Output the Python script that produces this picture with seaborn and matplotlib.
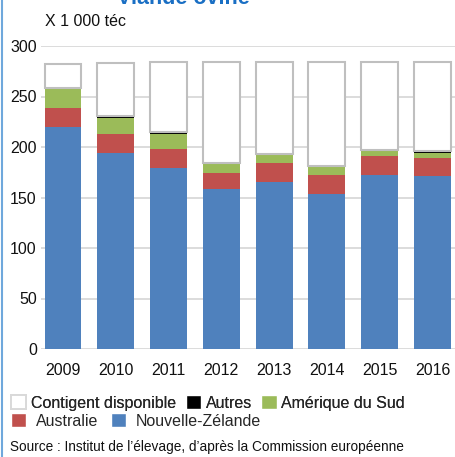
import matplotlib
matplotlib.use("Agg")
import matplotlib.pyplot as plt
import seaborn as sns
import pandas as pd
from matplotlib.patches import Patch
from matplotlib.lines import Line2D

# data (x 1 000 téc)
years = ['2009', '2010', '2011', '2012', '2013', '2014', '2015', '2016']
nz = [220, 194, 179, 158, 165, 153, 172, 171]
au = [19, 19, 19, 16, 19.5, 19, 19, 18]
sa = [18, 16, 15, 9, 8, 8, 5, 5.5]
autres = [1.5, 1.5, 1.5, 1, 1, 1.5, 1.5, 1.5]
contingent = [24, 52.5, 69.5, 100, 90.5, 103, 87, 88.5]

df = pd.DataFrame({'year': years, 'nz': nz, 'au': au, 'sa': sa,
                   'autres': autres, 'contingent': contingent})

sns.set_style("white")
plt.rcParams['font.family'] = ['Liberation Sans', 'DejaVu Sans']

fig = plt.figure(figsize=(4.56, 4.57), dpi=100)
ax = fig.add_axes([41 / 456, (457 - 349) / 457, 415 / 456, 303 / 457])

c_nz = '#4f81bd'
c_au = '#c0504d'
c_sa = '#9bbb59'
c_aut = '#000000'

# stacking
b1 = df['nz']
b2 = b1 + df['au']
b3 = b2 + df['sa']
b4 = b3 + df['autres']

w = 0.70
sns.barplot(data=df, x='year', y='nz', color=c_nz, width=w, saturation=1, ax=ax, linewidth=0)
sns.barplot(data=df, x='year', y='au', bottom=b1, color=c_au, width=w, saturation=1, ax=ax, linewidth=0)
sns.barplot(data=df, x='year', y='sa', bottom=b2, color=c_sa, width=w, saturation=1, ax=ax, linewidth=0)
sns.barplot(data=df, x='year', y='autres', bottom=b3, color=c_aut, width=w, saturation=1, ax=ax, linewidth=0)
sns.barplot(data=df, x='year', y='contingent', bottom=b4, color='white', width=w, saturation=1,
            ax=ax, edgecolor='#bfbfbf', linewidth=1.5)

ax.set_xlim(-0.417, 7.445)
ax.set_ylim(0, 300)
ax.set_yticks([0, 50, 100, 150, 200, 250, 300])
ax.yaxis.grid(True, color='#d9d9d9', linewidth=1.3)
ax.set_axisbelow(True)
for s in ax.spines.values():
    s.set_visible(False)
ax.set_xlabel('')
ax.set_ylabel('')
ax.tick_params(axis='y', length=0, pad=3, labelsize=11.5, labelcolor='#111111')
ax.tick_params(axis='x', length=0, pad=10, labelsize=11.5, labelcolor='#111111')

# titles
fig.text(183 / 456, 1 - 4 / 457, 'Viande ovine', ha='center', va='baseline',
         fontsize=15.5, fontweight='bold', color='#1a6fc4')
fig.text(45 / 456, 1 - 22 / 457, 'X 1 000 téc', ha='left', va='center',
         fontsize=11.5, color='#111111')

# legend, two rows
h1 = [Patch(facecolor='white', edgecolor='#d9d9d9', linewidth=1.4, label='Contigent disponible'),
      Patch(facecolor=c_aut, label='Autres'),
      Patch(facecolor=c_sa, label='Amérique du Sud')]
h2 = [Patch(facecolor=c_au, label='Australie'),
      Patch(facecolor=c_nz, label='Nouvelle-Zélande')]
lg1 = fig.legend(handles=h1, loc='center left', bbox_to_anchor=(11 / 456, 1 - 403 / 457),
                 ncol=3, frameon=False, fontsize=11.5, handlelength=0.95, handleheight=0.95,
                 handletextpad=0.3, columnspacing=0.6, borderpad=0, borderaxespad=0)
fig.add_artist(lg1)
fig.legend(handles=h2, loc='center left', bbox_to_anchor=(11 / 456, 1 - 421 / 457),
           ncol=2, frameon=False, fontsize=11.5, handlelength=0.95, handleheight=0.95,
           handletextpad=0.6, columnspacing=0.8, borderpad=0, borderaxespad=0)

fig.text(10 / 456, 1 - 447 / 457, "Source : Institut de l’élevage, d’après la Commission européenne",
         ha='left', va='center', fontsize=9.8, color='#111111')

# blue frame line on the left
fig.add_artist(Line2D([2.5 / 456, 2.5 / 456], [0, 1], transform=fig.transFigure,
                      color='#6fa8dc', linewidth=1.5))

fig.savefig('out.png', dpi=100)
